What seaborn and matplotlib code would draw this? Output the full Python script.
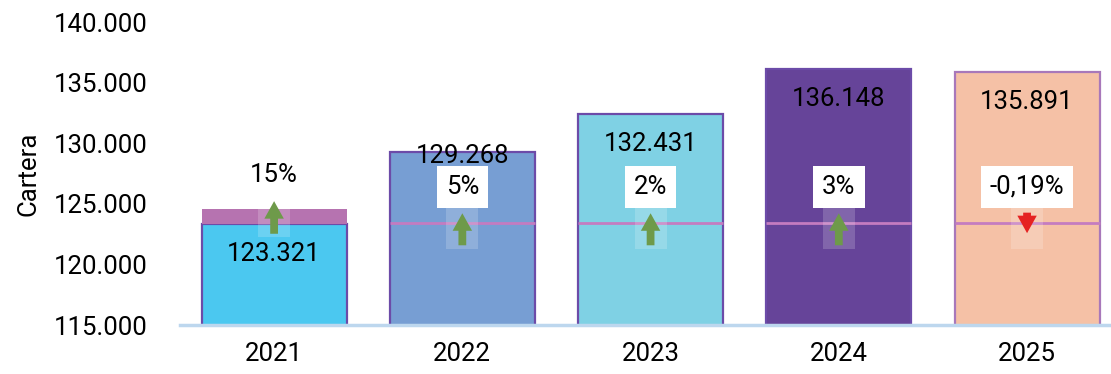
import matplotlib
matplotlib.use("Agg")
import matplotlib.pyplot as plt
import seaborn as sns
import pandas as pd
from matplotlib.patches import Rectangle
from matplotlib.ticker import FuncFormatter

years = ["2021", "2022", "2023", "2024", "2025"]
cartera = [123321, 129268, 132431, 136148, 135891]
variacion = [15, 5, 2, 3, -0.19]
bar_colors = ["#4BC8F0", "#779ED3", "#7FD1E4", "#664499", "#F5C1A6"]
edge_colors = ["#6C4BA8", "#6C4BA8", "#6C4BA8", "#6C4BA8", "#A878BA"]
banda_2021 = 124570     # top of the purple band over the 2021 bar
referencia = 123450     # pink reference line across later bars

sns.set_theme(style="white")
plt.rcParams["font.family"] = ["Roboto", "DejaVu Sans"]
plt.rcParams["text.color"] = "black"
plt.rcParams["axes.labelcolor"] = "black"
plt.rcParams["xtick.color"] = "black"
plt.rcParams["ytick.color"] = "black"
FS = 18.5

df = pd.DataFrame({"year": years, "cartera": cartera})

fig = plt.figure(figsize=(11.11, 3.74), dpi=100)
ax = fig.add_axes([0.162, 0.131, 0.837, 0.81])

W = 0.77
sns.barplot(data=df, x="year", y="cartera", hue="year", palette=bar_colors,
            legend=False, width=W, ax=ax, saturation=1)
for p, ec in zip(ax.patches, edge_colors):
    p.set_edgecolor(ec)
    p.set_linewidth(1.6)

# purple band on 2021
ax.bar(0, banda_2021 - cartera[0], bottom=cartera[0], width=W,
       color="#B673B0", edgecolor="none", zorder=2)
# reference line on later bars
for i in range(1, len(years)):
    ax.hlines(referencia, i - W / 2, i + W / 2, color="#C47CC0", lw=2, zorder=3)

for i, (v, pct) in enumerate(zip(cartera, variacion)):
    # value label
    off = 300 if i == 1 else 2500
    ax.text(i, v - off, f"{v:,}".replace(",", "."), ha="center", va="center",
            fontsize=FS, color="black", zorder=6)
    # translucent box behind arrow
    if i == 0:
        y0, y1 = 122300, 124600
    else:
        y0, y1 = 121300, 124900
    ax.add_patch(Rectangle((i - 0.085, y0), 0.17, y1 - y0, facecolor="white",
                           alpha=0.18, edgecolor="none", zorder=4))
    # arrow
    if pct >= 0:
        s, e = (122300, 125450) if i == 0 else (121350, 124450)
        col = "#6E9A4A"
    else:
        s, e, col = 124500, 122350, "#E52222"
    ax.annotate("", xy=(i, e), xytext=(i, s),
                arrowprops=dict(arrowstyle="simple,head_width=1.0,head_length=0.9,tail_width=0.4",
                                color=col, lw=0, mutation_scale=14),
                zorder=5)
    # pct label
    txt = f"{pct:.0f}%" if float(pct).is_integer() else f"{pct:.2f}".replace(".", ",") + "%"
    ypct = 127400 if i == 0 else 126400
    ax.text(i, ypct, txt, ha="center", va="center", fontsize=FS, color="black",
            bbox=dict(boxstyle="square,pad=0.35", facecolor="white", edgecolor="none"),
            zorder=7)

ax.set_ylim(115000, 140000)
ax.set_xlim(-0.5, 4.44)
ax.set_yticks(range(115000, 140001, 5000))
ax.yaxis.set_major_formatter(FuncFormatter(lambda v, _: f"{int(v):,}".replace(",", ".")))
ax.tick_params(axis="y", labelsize=FS, pad=23, length=0, labelcolor="black")
ax.tick_params(axis="x", labelsize=FS, pad=12, length=0, labelcolor="black")
ax.set_xlabel("")
ax.set_ylabel("Cartera", fontsize=FS, labelpad=10, color="black")
for s in ["top", "right", "left"]:
    ax.spines[s].set_visible(False)
ax.spines["bottom"].set_color("#BDD7EE")
ax.spines["bottom"].set_linewidth(2.5)
ax.spines["bottom"].set_zorder(8)

fig.savefig("out.png", dpi=100)
